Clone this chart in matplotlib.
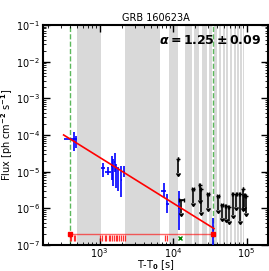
import numpy as np
import matplotlib
matplotlib.use("Agg")
import matplotlib.pyplot as plt

plt.rcParams['mathtext.fontset'] = 'custom'
plt.rcParams['mathtext.rm'] = 'DejaVu Sans:bold'
plt.rcParams['mathtext.it'] = 'DejaVu Sans:bold:italic'
plt.rcParams['mathtext.bf'] = 'DejaVu Sans:bold'

# detections
det_t = np.array([400, 445, 470, 1110, 1300, 1460, 1520, 1600, 1660, 1780, 1970, 2140, 7500, 8300, 12000, 35000])
det_t_lo = np.array([324, 435, 458, 1030, 1190, 1440, 1505, 1585, 1645, 1765, 1950, 2060, 6900, 8100, 11700, 34500])
det_t_hi = np.array([487, 455, 482, 1180, 1440, 1480, 1535, 1615, 1675, 1795, 1990, 2240, 8100, 8800, 12300, 35500])
det_f = np.array([7.8e-5, 7.5e-5, 6.5e-5, 1.25e-5, 1.0e-5, 1.4e-5, 1.0e-5, 1.8e-5, 1.1e-5, 8e-6, 6e-6, 1.0e-5,
                  2.9e-6, 1.3e-6, 1.0e-6, 2.5e-7])
det_f_lo = np.array([7.2e-5, 3.7e-5, 4.5e-5, 7e-6, 8e-6, 6e-6, 4e-6, 1e-5, 3.5e-6, 3e-6, 2e-6, 7e-6,
                     2.0e-6, 7.4e-7, 2.5e-7, 1e-8])
det_f_hi = np.array([8.4e-5, 1.2e-4, 9.5e-5, 1.7e-5, 1.3e-5, 2.6e-5, 2.2e-5, 3.3e-5, 1.6e-5, 1.3e-5, 1.4e-5, 1.4e-5,
                     4.8e-6, 2.4e-6, 2.9e-6, 5.4e-7])

# upper limits
ul_t = np.array([11600, 13000, 18600, 23000, 23700, 29800, 40700, 46200, 51800, 57400, 65100, 72400, 80400, 89200, 93000, 96900])
ul_terr = np.array([0, 1100, 700, 500, 500, 800, 900, 900, 900, 900, 900, 900, 900, 900, 700, 700])
ul_f = np.array([2.2e-5, 1.7e-6, 3.3e-6, 4.3e-6, 3.3e-6, 2.4e-6, 2.1e-6, 1.23e-6, 1.17e-6, 1.07e-6, 2.4e-6, 2.4e-6,
                 2.4e-6, 3.3e-6, 2.3e-6, 2.1e-6])
ul_bottom = np.array([9e-6, 7.4e-7, 1.4e-6, 1.7e-6, 8e-7, 1.0e-6, 9e-7, 5.4e-7, 5e-7, 4.4e-7, 6.6e-7, 1.07e-6,
                      4.4e-7, 1.0e-6, 1.1e-6, 7.4e-7])

# power-law fit end points
fit_t = [324, 36000]
fit_f = [1.0e-4, 2.8e-7]

# observation gaps (grey bands)
gaps = [(486, 1032), (2190, 6650), (8840, 11700), (14500, 18100),
        (19300, 22700), (24600, 28600), (30700, 34300), (36300, 39800), (41900, 45300),
        (47500, 50900), (53000, 56500), (58700, 63500), (66500, 70700), (74000, 78300),
        (82000, 86500), (90500, 92000), (94000, 96000), (97500, 99500)]

# markers along the bottom
red_ticks = [391, 403, 443, 457, 1021, 1076, 1170, 1232, 1339, 1397, 1487, 1567, 1651, 1721, 1832,
             1971, 2076, 2187, 7670, 8240]
span_t = [391, 35000]
green_x_t = 12500
trig_lines = [391, 35000]

fig = plt.figure(figsize=(2.69, 2.71), dpi=100)
ax = fig.add_axes([0.16, 0.096, 0.836, 0.812])

for a, b in gaps:
    ax.axvspan(a, b, color='#d9d9d9', lw=0, zorder=0)
for t in trig_lines:
    ax.axvline(t, color='#5cb85c', ls='--', lw=1, zorder=1)

ax.plot(fit_t, fit_f, color='red', lw=1.2, zorder=4)

ax.errorbar(det_t, det_f, xerr=[det_t - det_t_lo, det_t_hi - det_t],
            yerr=[det_f - det_f_lo, det_f_hi - det_f], fmt='none', ecolor='blue', elinewidth=1.2, zorder=3)

ax.errorbar(ul_t, ul_f, xerr=ul_terr, yerr=ul_f - ul_bottom, uplims=True, fmt='none',
            color='black', ecolor='black', elinewidth=1.2, capsize=1.5, zorder=3)

ax.plot(span_t, [2e-7, 2e-7], color='red', lw=1, alpha=0.6, zorder=2)
ax.plot(span_t, [2e-7, 2e-7], ls='none', marker='s', ms=2.5, color='red', zorder=5)
ax.plot(red_ticks, [1.55e-7] * len(red_ticks), ls='none', marker='|', ms=4, mew=0.9, color='red', alpha=0.8)
ax.plot([green_x_t], [1.55e-7], ls='none', marker='x', ms=3, mew=1, color='green')

ax.set_xscale('log')
ax.set_yscale('log')
ax.set_xticks([1e3, 1e4, 1e5])
ax.set_xlim(170, 1.95e5)
ax.set_ylim(1e-7, 1e-1)

ax.tick_params(which='both', direction='in', top=True, right=True, labelsize=7)
ax.tick_params(axis='x', pad=1)
ax.tick_params(axis='y', pad=2)
ax.tick_params(which='major', length=5, width=1)
ax.tick_params(which='minor', length=2.5, width=0.6)
for s in ax.spines.values():
    s.set_linewidth(1.5)

ax.set_title('GRB 160623A', fontsize=7, pad=3)
ax.set_xlabel(r'T-T$_0$ [s]', fontsize=7, labelpad=-1.5)
ax.set_ylabel(r'Flux [ph cm$^{-2}$ s$^{-1}$]', fontsize=7, labelpad=1)
ax.text(0.97, 0.93, r'$\alpha = 1.25 \pm 0.09$', transform=ax.transAxes, ha='right', va='center', fontsize=9)

fig.savefig('out.png', dpi=100)
